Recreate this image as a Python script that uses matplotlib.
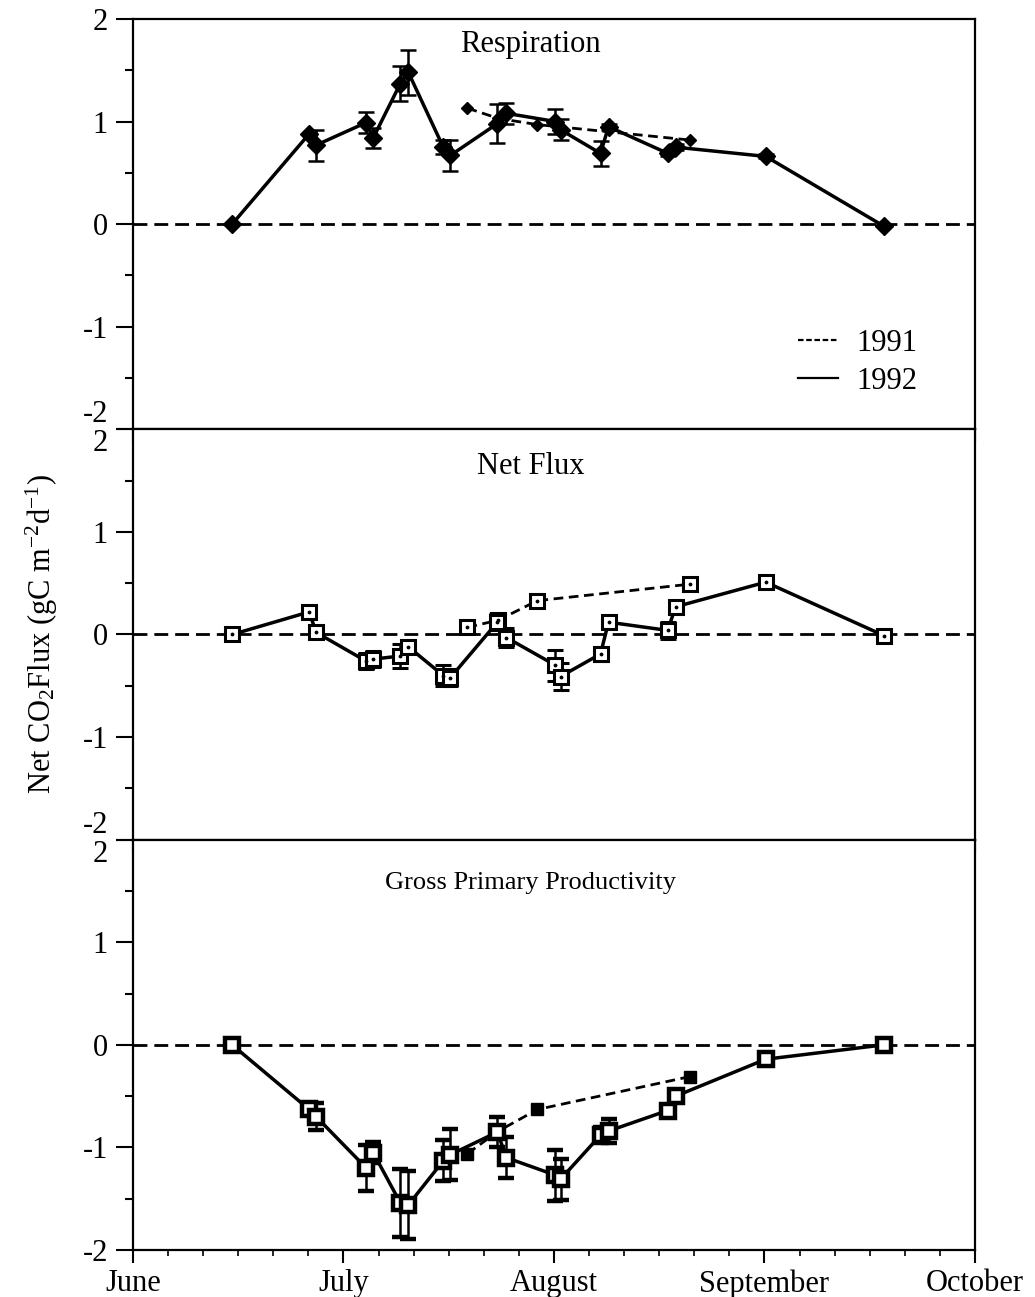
import matplotlib
matplotlib.use('Agg')
import matplotlib.pyplot as plt
from matplotlib.lines import Line2D
from matplotlib.ticker import MultipleLocator

plt.rcParams['font.family'] = 'serif'
plt.rcParams['font.serif'] = ['Liberation Serif', 'DejaVu Serif']
plt.rcParams['mathtext.fontset'] = 'custom'
plt.rcParams['mathtext.rm'] = 'Liberation Serif'
plt.rcParams['mathtext.it'] = 'Liberation Serif:italic'
plt.rcParams['axes.unicode_minus'] = False

# x in months after June 1 (0 = June, 1 = July, ...)
months_92 = [0.471, 0.837, 0.870, 1.108, 1.141, 1.270, 1.308, 1.474, 1.508, 1.731,
             1.774, 2.007, 2.031, 2.221, 2.259, 2.540, 2.578, 3.006, 3.567]
resp_92 = [0.00, 0.88, 0.77, 0.99, 0.84, 1.37, 1.48, 0.75, 0.67, 0.98,
           1.08, 1.00, 0.92, 0.69, 0.95, 0.69, 0.75, 0.66, -0.02]
resp_err_92 = [0, 0, 0.15, 0.10, 0.10, 0.17, 0.22, 0.07, 0.15, 0.19,
               0.10, 0.12, 0.10, 0.12, 0.03, 0.03, 0.03, 0.02, 0]
nf_92 = [0.00, 0.22, 0.02, -0.26, -0.24, -0.21, -0.12, -0.40, -0.42, 0.12,
         -0.03, -0.30, -0.41, -0.19, 0.12, 0.04, 0.27, 0.51, -0.01]
nf_err_92 = [0, 0.02, 0.03, 0.08, 0.08, 0.12, 0.05, 0.10, 0.08, 0.08,
             0.09, 0.15, 0.13, 0.07, 0.03, 0.08, 0.03, 0.02, 0.02]
gpp_92 = [0.00, -0.63, -0.70, -1.20, -1.05, -1.54, -1.56, -1.13, -1.07, -0.85,
          -1.10, -1.27, -1.31, -0.88, -0.84, -0.64, -0.50, -0.14, 0.00]
gpp_err_92 = [0, 0.03, 0.13, 0.22, 0.10, 0.33, 0.33, 0.20, 0.25, 0.15,
              0.20, 0.25, 0.20, 0.08, 0.12, 0.03, 0.03, 0.02, 0.01]

months_91 = [1.589, 1.736, 1.921, 2.644]
resp_91 = [1.13, 1.03, 0.97, 0.82]
nf_91 = [0.07, 0.14, 0.33, 0.49]
gpp_91 = [-1.06, -0.84, -0.63, -0.31]

month_labels = ['June', 'July', 'August', 'September', 'October']
panel_titles = ['Respiration', 'Net Flux', 'Gross Primary Productivity']
title_y = [0.937, 0.91, 0.895]
title_fs = [22, 22, 19]

fig = plt.figure(figsize=(10.35, 12.97), dpi=100)
left, width, bottom, h = 0.1285, 0.8135, 0.0362, 0.3164
axes = [fig.add_axes([left, bottom + (2 - i) * h, width, h]) for i in range(3)]

fs = 22
err_kw = dict(capsize=5.5, capthick=1.8, elinewidth=1.8, ecolor='k')

for i, ax in enumerate(axes):
    ax.axhline(0, color='k', lw=2, ls=(0, (5, 2.5)), zorder=1)
    ax.set_xlim(0, 4)
    ax.set_ylim(-2, 2)
    ax.xaxis.set_major_locator(MultipleLocator(1))
    ax.xaxis.set_minor_locator(MultipleLocator(1 / 6))
    ax.yaxis.set_major_locator(MultipleLocator(1))
    ax.yaxis.set_minor_locator(MultipleLocator(0.5))
    ax.tick_params(axis='y', which='major', direction='out', length=12, width=1.5,
                   labelsize=fs, pad=6)
    ax.tick_params(axis='y', which='minor', direction='out', length=6, width=1.5)
    ax.tick_params(axis='x', which='major', direction='out', length=9, width=1.5,
                   labelsize=fs, pad=5)
    ax.tick_params(axis='x', which='minor', direction='out', length=4.5, width=1.2)
    for s in ax.spines.values():
        s.set_linewidth(1.6)
    ax.set_yticks([-2, -1, 0, 1, 2])
    ax.set_yticklabels(['-2', '-1', '0', '1', '2'])
    if i < 2:
        ax.tick_params(axis='x', labelbottom=False)
    else:
        ax.set_xticks(range(5))
        ax.set_xticklabels(month_labels)
    labs = ax.get_yticklabels()
    if i < 2:
        labs[0].set_va('bottom')
    if i > 0:
        labs[-1].set_va('top')
    ax.text(0.472, title_y[i], panel_titles[i], transform=ax.transAxes,
            ha='center', va='center', fontsize=title_fs[i])

# Respiration
ax = axes[0]
ax.plot(months_91, resp_91, color='k', lw=2, ls=(0, (3.5, 2)), marker='D', ms=6.5,
        zorder=3)
ax.errorbar(months_92, resp_92, yerr=resp_err_92, color='k', lw=2.5, marker='D',
            ms=9, zorder=4, **err_kw)
handles = [Line2D([], [], color='k', lw=1.6, ls=(0, (2.5, 1.2))),
           Line2D([], [], color='k', lw=1.6)]
ax.legend(handles, ['1991', '1992'], loc='upper left', bbox_to_anchor=(0.79, 0.245),
          frameon=False, fontsize=fs, handlelength=1.3, handletextpad=0.6,
          labelspacing=0.3, borderpad=0, borderaxespad=0)

# Net flux
ax = axes[1]
ax.plot(months_91, nf_91, color='k', lw=2, ls=(0, (3.5, 2)), marker='s', ms=10,
        mfc='white', mec='k', mew=2.2, zorder=3)
ax.plot(months_91, nf_91, ls='none', marker='.', ms=3.5, color='k', zorder=5)
ax.errorbar(months_92, nf_92, yerr=nf_err_92, color='k', lw=2.5, marker='s', ms=10,
            mfc='white', mec='k', mew=2.2, zorder=4, **err_kw)
ax.plot(months_92, nf_92, ls='none', marker='.', ms=3.5, color='k', zorder=5)
ax.set_ylabel(r'Net CO$_\mathrm{2}$Flux (gC m$^{\mathrm{-2}}$d$^{\mathrm{-1}}$)',
              fontsize=fs, labelpad=16)

# Gross primary productivity
ax = axes[2]
ax.plot(months_91, gpp_91, color='k', lw=2, ls=(0, (3.5, 2)), marker='s', ms=9,
        mfc='k', mec='k', zorder=3)
ax.errorbar(months_92, gpp_92, yerr=gpp_err_92, color='k', lw=2.5, marker='s', ms=10,
            mfc='white', mec='k', mew=3.2, zorder=4, **err_kw)

fig.savefig('out.png', dpi=100)
